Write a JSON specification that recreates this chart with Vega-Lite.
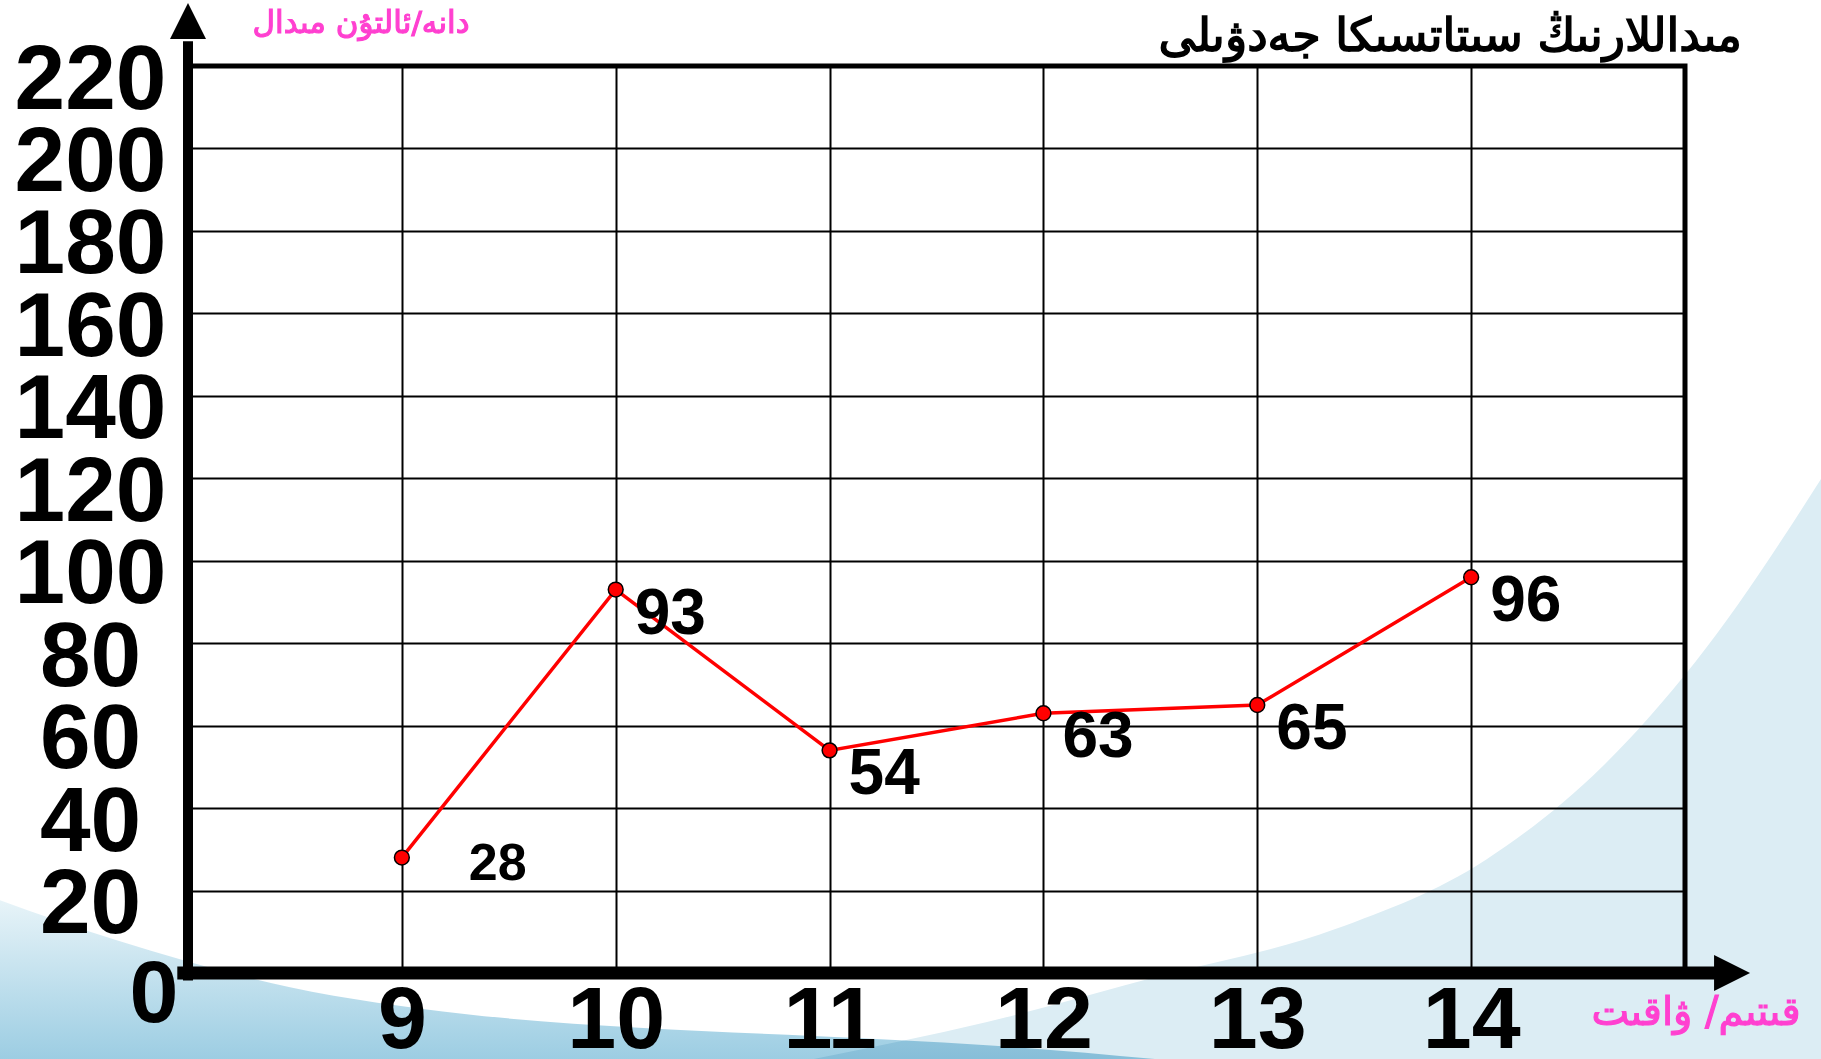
{
  "$schema": "https://vega.github.io/schema/vega-lite/v6.json",
  "width": 1497,
  "height": 907,
  "autosize": {"type": "none"},
  "padding": {"left": 188, "top": 66, "right": 136, "bottom": 86},
  "background": "white",
  "config": {"view": {"stroke": "#000000", "strokeWidth": 5}, "font": "Liberation Sans"},
  "datasets": {
    "medals": [
      {"time": 9, "medals": 28},
      {"time": 10, "medals": 93},
      {"time": 11, "medals": 54},
      {"time": 12, "medals": 63},
      {"time": 13, "medals": 65},
      {"time": 14, "medals": 96}
    ],
    "bgR": [
      {"time": 10.922, "medals": -20.9},
      {"time": 11.736, "medals": -11.88},
      {"time": 12.551, "medals": -0.63},
      {"time": 13.365, "medals": 10.65},
      {"time": 14.071, "medals": 27.55},
      {"time": 14.614, "medals": 50.08},
      {"time": 15.048, "medals": 75.43},
      {"time": 15.7, "medals": 125}
    ],
    "bgL": [
      {"time": 7.05, "medals": 19},
      {"time": 7.663, "medals": 8},
      {"time": 8.477, "medals": -3.44},
      {"time": 9.293, "medals": -9.92},
      {"time": 10.108, "medals": -13.29},
      {"time": 10.922, "medals": -15.28},
      {"time": 11.736, "medals": -17.5},
      {"time": 12.551, "medals": -21}
    ],
    "one": [{}]
  },
  "layer": [
    {
      "data": {"name": "bgR"},
      "mark": {"type": "area", "interpolate": "monotone", "color": "#dcedf4", "blend": "multiply"},
      "encoding": {
        "x": {"field": "time", "type": "quantitative"},
        "y": {"field": "medals", "type": "quantitative"},
        "y2": {"datum": -22}
      }
    },
    {
      "data": {"name": "bgL"},
      "mark": {
        "type": "area",
        "interpolate": "monotone",
        "blend": "multiply",
        "color": {
          "gradient": "linear",
          "x1": 0, "y1": 0, "x2": 0, "y2": 1,
          "stops": [
            {"offset": 0, "color": "#eaf5f9"},
            {"offset": 1, "color": "#9acce2"}
          ]
        }
      },
      "encoding": {
        "x": {"field": "time", "type": "quantitative"},
        "y": {"field": "medals", "type": "quantitative"},
        "y2": {"datum": -22}
      }
    },
    {
      "data": {"name": "medals"},
      "mark": {"type": "line", "color": "#ff0000", "strokeWidth": 3.5},
      "encoding": {
        "x": {
          "field": "time",
          "type": "quantitative",
          "scale": {"domain": [8, 15], "nice": false, "zero": false},
          "axis": {
            "values": [9, 10, 11, 12, 13, 14],
            "format": "d",
            "grid": true,
            "gridColor": "#000000",
            "gridWidth": 2,
            "gridOpacity": 1,
            "domain": false,
            "ticks": false,
            "labelFontSize": 88,
            "labelFontWeight": "bold",
            "labelFont": "Liberation Sans",
            "labelColor": "#000000",
            "labelPadding": 4,
            "labelFlush": false,
            "labelOverlap": false,
            "title": null
          }
        },
        "y": {
          "field": "medals",
          "type": "quantitative",
          "scale": {"domain": [0, 220], "nice": false, "zero": false},
          "axis": {
            "values": [20, 40, 60, 80, 100, 120, 140, 160, 180, 200, 220],
            "format": "d",
            "grid": true,
            "gridColor": "#000000",
            "gridWidth": 2,
            "gridOpacity": 1,
            "domain": false,
            "ticks": false,
            "labelFontSize": 91,
            "labelFontWeight": "bold",
            "labelFont": "Liberation Sans",
            "labelColor": "#000000",
            "labelAlign": "center",
            "labelBaseline": "middle",
            "labelPadding": 98,
            "labelOffset": 15,
            "labelFlush": false,
            "labelOverlap": false,
            "title": null
          }
        }
      }
    },
    {
      "data": {"name": "one"},
      "mark": {"type": "rule", "color": "#000000", "strokeWidth": 10},
      "encoding": {
        "x": {"datum": 8},
        "y": {"datum": -1.8},
        "y2": {"datum": 226}
      }
    },
    {
      "data": {"name": "one"},
      "mark": {"type": "rule", "color": "#000000", "strokeWidth": 13},
      "encoding": {
        "x": {"datum": 7.95},
        "x2": {"datum": 15.15},
        "y": {"datum": 0}
      }
    },
    {
      "data": {"name": "one"},
      "mark": {"type": "point", "shape": "M0,-1L1,1L-1,1Z", "size": 1296, "filled": true, "fill": "#000000", "strokeWidth": 0, "opacity": 1},
      "encoding": {
        "x": {"datum": 8},
        "y": {"datum": 230.9}
      }
    },
    {
      "data": {"name": "one"},
      "mark": {"type": "point", "shape": "M-1,-1L1,0L-1,1Z", "size": 1296, "filled": true, "fill": "#000000", "strokeWidth": 0, "opacity": 1},
      "encoding": {
        "x": {"datum": 15.22},
        "y": {"datum": 0}
      }
    },
    {
      "data": {"name": "medals"},
      "mark": {"type": "point", "filled": true, "fill": "#ff0000", "stroke": "#000000", "strokeWidth": 1.5, "size": 220, "opacity": 1},
      "encoding": {
        "x": {"field": "time", "type": "quantitative"},
        "y": {"field": "medals", "type": "quantitative"}
      }
    },
    {
      "data": {"name": "medals"},
      "transform": [{"filter": "datum.time != 9"}],
      "mark": {"type": "text", "align": "left", "baseline": "middle", "dx": 19, "dy": 25, "fontSize": 64, "fontWeight": "bold", "font": "Liberation Sans", "color": "#000000"},
      "encoding": {
        "x": {"field": "time", "type": "quantitative"},
        "y": {"field": "medals", "type": "quantitative"},
        "text": {"field": "medals", "type": "quantitative"}
      }
    },
    {
      "data": {"name": "medals"},
      "transform": [{"filter": "datum.time == 9"}],
      "mark": {"type": "text", "align": "left", "baseline": "middle", "dx": 67, "dy": 6, "fontSize": 52, "fontWeight": "bold", "font": "Liberation Sans", "color": "#000000"},
      "encoding": {
        "x": {"field": "time", "type": "quantitative"},
        "y": {"field": "medals", "type": "quantitative"},
        "text": {"field": "medals", "type": "quantitative"}
      }
    },
    {
      "data": {"name": "one"},
      "mark": {"type": "text", "text": "0", "align": "center", "baseline": "middle", "dx": -34, "dy": 23, "fontSize": 88, "fontWeight": "bold", "font": "Liberation Sans", "color": "#000000"},
      "encoding": {
        "x": {"datum": 8},
        "y": {"datum": 0}
      }
    },
    {
      "data": {"name": "one"},
      "mark": {"type": "text", "text": "مىداللارنىڭ سىتاتسىكا جەدۋىلى", "align": "right", "baseline": "alphabetic", "dx": 57, "dy": -15, "fontSize": 46, "fontWeight": "normal", "font": "DejaVu Sans", "color": "#000000", "stroke": "#000000", "strokeWidth": 1.6},
      "encoding": {
        "x": {"datum": 15},
        "y": {"datum": 220}
      }
    },
    {
      "data": {"name": "one"},
      "mark": {"type": "text", "text": "دانە/ئالتۇن مىدال", "align": "center", "baseline": "middle", "dx": 173, "dy": -42, "fontSize": 31, "fontWeight": "normal", "font": "DejaVu Sans", "color": "#ff40d0", "stroke": "#ff40d0", "strokeWidth": 1.2},
      "encoding": {
        "x": {"datum": 8},
        "y": {"datum": 220}
      }
    },
    {
      "data": {"name": "one"},
      "mark": {"type": "text", "text": "قىتىم/ ۋاقىت", "align": "center", "baseline": "middle", "dx": 11, "dy": 40, "fontSize": 40, "fontWeight": "normal", "font": "DejaVu Sans", "color": "#ff40d0", "stroke": "#ff40d0", "strokeWidth": 1.2},
      "encoding": {
        "x": {"datum": 15},
        "y": {"datum": 0}
      }
    }
  ]
}
